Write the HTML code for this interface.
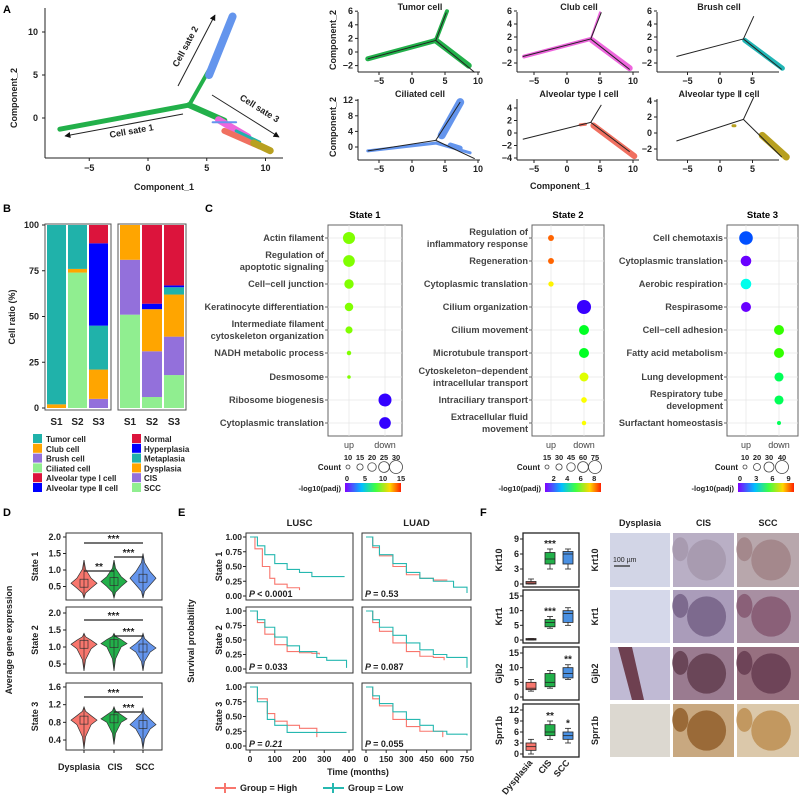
<!DOCTYPE html>
<html><head><meta charset="utf-8"><style>body{margin:0;background:#fff}svg{display:block}</style></head>
<body>
<svg id="fig" width="800" height="795" viewBox="0 0 800 795" xmlns="http://www.w3.org/2000/svg" font-family="'Liberation Sans', Arial, sans-serif">
<defs>
<marker id="arr" viewBox="0 0 10 10" refX="9" refY="5" markerWidth="6" markerHeight="6" orient="auto"><path d="M0,0 L10,5 L0,10 z" fill="#111"/></marker>
<linearGradient id="rainbow" x1="0" x2="1" y1="0" y2="0">
<stop offset="0" stop-color="#8000ff"/><stop offset="0.3" stop-color="#00bfff"/><stop offset="0.55" stop-color="#40ff40"/><stop offset="0.8" stop-color="#ffd700"/><stop offset="1" stop-color="#ff2000"/></linearGradient>
</defs>
</svg>
<script>
// ---------- DATA ----------
// Panel B
const stages = ['S1','S2','S3'];
const cellTypes = ['Brush cell','Ciliated cell','Club cell','Tumor cell','Alveolar type Ⅱ cell','Alveolar type Ⅰ cell'];
const cellColors = ['#9370db','#90ee90','#ffa500','#20b2aa','#0000ff','#dc143c'];
const cellS1 = [0,0,2,98,0,0];
const cellS2 = [0,74,2,24,0,0];
const cellS3 = [5,0,16,24,45,10];
const pathTypes = ['SCC','CIS','Dysplasia','Metaplasia','Hyperplasia','Normal'];
const pathColors = ['#90ee90','#9370db','#ffa500','#20b2aa','#0000ff','#dc143c'];
const pathS1 = [51,30,19,0,0,0];
const pathS2 = [6,25,23,0,3,43];
const pathS3 = [18,21,23,4,1,33];
const ratioTicks = [0,25,50,75,100];
// Panel C
const terms1 = ['Actin filament','Regulation of|apoptotic signaling','Cell−cell junction','Keratinocyte differentiation','Intermediate filament|cytoskeleton organization','NADH metabolic process','Desmosome','Ribosome biogenesis','Cytoplasmic translation'];
const dir1 = [0,0,0,0,0,0,0,1,1];
const count1 = [28,27,22,20,17,11,9,30,27];
const padj1 = [10,10,10,10,10,10,10,1,1];
const terms2 = ['Regulation of|inflammatory response','Regeneration','Cytoplasmic translation','Cilium organization','Cilium movement','Microtubule transport','Cytoskeleton−dependent|intracellular transport','Intraciliary transport','Extracellular fluid|movement'];
const dir2 = [0,0,0,1,1,1,1,1,1];
const count2 = [28,28,24,82,55,55,48,26,18];
const padj2 = [8.3,8.3,7.3,1.5,5.2,5.2,7,7.2,7.2];
const terms3 = ['Cell chemotaxis','Cytoplasmic translation','Aerobic respiration','Respirasome','Cell−cell adhesion','Fatty acid metabolism','Lung development','Respiratory tube|development','Surfactant homeostasis'];
const dir3 = [0,0,0,0,1,1,1,1,1];
const count3 = [42,32,32,30,30,30,27,27,10];
const padj3 = [1.8,0.2,3.5,0.2,6,6,4.8,4.8,4.8];
const countTicks1 = [10,15,20,25,30];
const countTicks2 = [15,30,45,60,75];
const countTicks3 = [10,20,30,40];
const padjTicks1 = [0,5,10,15];
const padjTicks2 = [2,4,6,8];
const padjTicks3 = [0,3,6,9];
// Panel D (min,q1,median,q3,max)
const groups = ['Dysplasia','CIS','SCC'];
const vState1 = [[0.15,0.45,0.6,0.75,1.3],[0.15,0.5,0.65,0.8,1.3],[0.15,0.55,0.75,0.95,1.5]];
const vState2 = [[0.3,0.95,1.08,1.2,1.4],[0.3,1.0,1.1,1.22,1.4],[0.3,0.85,0.97,1.1,1.4]];
const vState3 = [[0.2,0.75,0.85,0.95,1.15],[0.3,0.8,0.88,0.97,1.15],[0.2,0.65,0.75,0.87,1.12]];
const vTicks1 = [0.5,1.0,1.5,2.0];
const vTicks2 = [0.5,1.0,1.5,2.0];
const vTicks3 = [0.4,0.8,1.2,1.6];
// Panel E [time, survival]
const kmLuscS1High = [[0,1],[20,0.8],[50,0.5],[80,0.3],[100,0.2],[150,0.14],[200,0.1]];
const kmLuscS1Low = [[0,1],[30,0.85],[60,0.7],[100,0.55],[150,0.45],[200,0.4],[250,0.33],[380,0.32]];
const kmLuadS1High = [[0,1],[50,0.82],[100,0.68],[200,0.5],[300,0.36],[400,0.3],[500,0.27],[600,0.26]];
const kmLuadS1Low = [[0,1],[50,0.85],[100,0.7],[200,0.55],[300,0.4],[400,0.3],[500,0.25],[650,0.15],[750,0.05]];
const kmLuscS2High = [[0,1],[30,0.8],[60,0.6],[100,0.42],[150,0.3],[200,0.28],[250,0.27],[280,0.25]];
const kmLuscS2Low = [[0,1],[30,0.85],[60,0.72],[100,0.55],[150,0.4],[200,0.3],[270,0.2],[310,0.15],[390,0.02]];
const kmLuadS2High = [[0,1],[50,0.8],[100,0.65],[200,0.45],[300,0.3],[400,0.22],[500,0.2],[580,0.15]];
const kmLuadS2Low = [[0,1],[50,0.85],[100,0.72],[200,0.58],[300,0.45],[400,0.33],[500,0.25],[600,0.2],[750,0.02]];
const kmLuscS3High = [[0,1],[30,0.8],[70,0.55],[100,0.42],[150,0.35],[200,0.3],[270,0.15]];
const kmLuscS3Low = [[0,1],[30,0.75],[70,0.45],[100,0.35],[150,0.23],[390,0.23]];
const kmLuadS3High = [[0,1],[50,0.8],[100,0.68],[200,0.45],[300,0.33],[400,0.25],[570,0.15]];
const kmLuadS3Low = [[0,1],[50,0.85],[100,0.72],[200,0.58],[300,0.45],[400,0.35],[500,0.25],[600,0.2],[750,0.18]];
const pLusc = ['< 0.0001','= 0.033','= 0.21'];
const pLuad = ['= 0.53','= 0.087','= 0.055'];
const kmYTicks = [0,0.25,0.5,0.75,1];
const luscXTicks = [0,100,200,300,400];
const luadXTicks = [0,150,300,450,600,750];
// Panel F (min,q1,median,q3,max)
const genes = ['Krt10','Krt1','Gjb2','Sprr1b'];
const geneMax = [9,15,15,12];
const geneTicks = [[0,3,6,9],[0,5,10,15],[0,5,10,15],[0,3,6,9,12]];
const fKrt10 = [[0,0,0.2,0.5,1],[3,4,5,6.3,7],[3,4,6,6.5,7]];
const fKrt1 = [[0,0,0.2,0.5,0.5],[4,4.5,6,7,8],[5,6,9,10,11]];
const fGjb2 = [[2,2.5,3,5,6],[3,3.5,5,8,9],[6,6.5,8,10,11]];
const fSprr1b = [[0,1,2,3,4],[4,5,6,8,9],[3,4,5,6,7]];
const fStars = [['','***',''],['','***',''],['','','**'],['','**','*']];

// ---------- HELPERS ----------
const NS='http://www.w3.org/2000/svg';
const svg=document.getElementById('fig');
function add(p,tag,a,name){const e=document.createElementNS(NS,tag);for(const k in a)e.setAttribute(k,a[k]);


p.appendChild(e);return e;}
function txt(p,x,y,s,name,o){o=o||{};const a={x:x,y:y,'font-size':o.fs||9,'font-weight':o.fw||'bold','text-anchor':o.anchor||'middle',fill:o.fill||'#222'};if(o.tr)a.transform=o.tr;if(o.it)a['font-style']='italic';const e=add(p,'text',a,name);e.textContent=s;return e;}
function ln(p,x1,y1,x2,y2,name,o){o=o||{};return add(p,'line',{x1:x1,y1:y1,x2:x2,y2:y2,stroke:o.c||'#222','stroke-width':o.w||1,'stroke-linecap':o.cap||'butt'},name);}
function rc(p,x,y,w,h,name,o){o=o||{};return add(p,'rect',{x:x,y:y,width:w,height:h,fill:o.f||'none',stroke:o.s||'none','stroke-width':o.w||1},name);}
function grp(name){return add(svg,'g',{},name);}
function hue(t){t=Math.max(0,Math.min(1,t));return 'hsl('+((1-t)*270)+',100%,'+(50)+'%)';}

// panel letters
[['A',3,13],['B',3,212],['C',205,212],['D',3,516],['E',178,516],['F',480,516]].forEach(function(l){txt(svg,l[1],l[2],l[0],'panel-label-'+l[0].toLowerCase(),{fs:11,anchor:'start',fill:'#000'});});

// ---------- PANEL A ----------
(function(){
const g=grp('panel-a-trajectory');
const ax=x=>148+11.75*x, ay=y=>118-8.6*y;
ln(g,45,8,45,158,'y-axis-line');ln(g,45,158,283,158,'x-axis-line');
[-5,0,5,10].forEach(function(v){ln(g,ax(v),158,ax(v),161,'x-tick');txt(g,ax(v),171,v<0?'−5':String(v),'x-tick-label',{fs:9});});
[0,5,10].forEach(function(v){ln(g,42,ay(v),45,ay(v),'y-tick');txt(g,38,ay(v)+3,String(v),'y-tick-label',{fs:9,anchor:'end'});});
txt(g,164,190,'Component_1','x-axis-title',{fs:9});
txt(g,17,98,'Component_2','y-axis-title',{fs:9,tr:'rotate(-90 17 98)'});
const segs=[[[-7.5,-1.3],[3.5,1.5],'#22b04a',5],[[3.5,1.5],[5.2,5.6],'#22b04a',4],[[5.2,5],[7.2,11.8],'#6495ed',8],
[[3.5,1.5],[6.5,-0.3],'#22b04a',6],[[6,-0.2],[8.5,-2.2],'#ee66dd',7],[[6.5,-1.5],[9.5,-3.3],'#f07060',6],[[7.5,-1.5],[9.5,-2.8],'#20b2aa',3],[[9,-2.9],[10.4,-3.8],'#b8a020',7],[[5.5,-0.5],[7.5,-0.5],'#6495ed',2]];
segs.forEach(function(s){ln(g,ax(s[0][0]),ay(s[0][1]),ax(s[1][0]),ay(s[1][1]),'trajectory-branch',{c:s[2],w:s[3],cap:'round'});});
const a1=ln(g,183,114,65,136,'arrow-cell-state-1');a1.setAttribute('marker-end','url(#arr)');
const a2=ln(g,178,86,215,15,'arrow-cell-state-2');a2.setAttribute('marker-end','url(#arr)');
const a3=ln(g,212,95,279,137,'arrow-cell-state-3');a3.setAttribute('marker-end','url(#arr)');
txt(g,132,134,'Cell sate 1','label-cell-state-1',{fs:9,tr:'rotate(-10 132 134)'});
txt(g,188,48,'Cell sate 2','label-cell-state-2',{fs:9,tr:'rotate(-62 188 48)'});
txt(g,258,111,'Cell sate 3','label-cell-state-3',{fs:9,tr:'rotate(32 258 111)'});
})();

// small panels
(function(){
const cols=[{lx:358,x0:412,sx:6.6},{lx:517,x0:567,sx:6.6},{lx:657,x0:720,sx:6.5}];
const rows=[[{y0:52,sy:6.8,t:['−2','0','2','4','6'],v:[-2,0,2,4,6]},{y0:50,sy:6.5,t:['−2','0','2','4','6'],v:[-2,0,2,4,6]},{y0:50,sy:6.5,t:['−2','0','2','4','6'],v:[-2,0,2,4,6]}],
[{y0:147,sy:3.9,t:['0','4','8','12'],v:[0,4,8,12]},{y0:133,sy:6.25,t:['−4','−2','0','2','4'],v:[-4,-2,0,2,4]},{y0:133,sy:8,t:['−2','0','2','4'],v:[-2,0,2,4]}]];
const titles=[['Tumor cell','Club cell','Brush cell'],['Ciliated cell','Alveolar type Ⅰ cell','Alveolar type Ⅱ cell']];
const bottoms=[72,160], tops=[8,95];
const xt=[[-5,0,5,10],[-5,0,5,10],[-5,0,5,10]];
const colored=[
[[[-6.7,-1],[3.6,1.7],'#22b04a',5],[[3.6,1.7],[5.3,6],'#22b04a',4],[[3.6,1.7],[8.6,-2],'#22b04a',6]],
[[[-6.5,-1],[3.6,1.7],'#ee66dd',4],[[3.6,1.7],[5,5.8],'#ee66dd',2],[[3.8,1.5],[9.5,-2.8],'#ee66dd',6]],
[[[3.8,1.5],[9.6,-2.8],'#20b5b5',5]],
[[[-6.7,-1],[3.6,1],'#6495ed',3],[[4.5,3],[7.3,11.5],'#6495ed',8],[[3.6,1],[8.8,-1.5],'#6495ed',3],[[5.8,0.5],[7.3,-0.3],'#6495ed',5]],
[[[2,1.3],[2.8,1.4],'#f07060',3],[[4,1.2],[10.2,-3.7],'#f07060',6]],
[[[2,0.9],[2.3,0.9],'#b8a020',3],[[6.5,-0.3],[10.2,-3],'#b8a020',7]]];
const upEnds=[[5.2,5.8],[5.2,5.8],[5.2,5.2],[7.3,11.5],[5.2,4.5],[5.2,4.5]];
for(let r=0;r<2;r++)for(let c=0;c<3;c++){
 const g=grp('trajectory-panel-'+titles[r][c].toLowerCase().replace(/[^a-z]+/g,'-'));
 const C=cols[c],R=rows[r][c];
 const X=x=>C.x0+C.sx*x, Y=y=>R.y0-R.sy*y;
 ln(g,C.lx,tops[r]+4,C.lx,bottoms[r],'y-axis-line');ln(g,C.lx,bottoms[r],C.lx+122,bottoms[r],'x-axis-line');
 xt[c].forEach(function(v){if(X(v)>C.lx+124)return;ln(g,X(v),bottoms[r],X(v),bottoms[r]+3,'x-tick');txt(g,X(v),bottoms[r]+12,v<0?'−5':String(v),'x-tick-label',{fs:9});});
 R.v.forEach(function(v,i){ln(g,C.lx-3,Y(v),C.lx,Y(v),'y-tick');txt(g,C.lx-5,Y(v)+3,R.t[i],'y-tick-label',{fs:9,anchor:'end'});});
 txt(g,C.lx+62,tops[r]+2,titles[r][c],'panel-title',{fs:9});
 const k=r*3+c;
 colored[k].forEach(function(s){ln(g,X(s[0][0]),Y(s[0][1]),X(s[1][0]),Y(s[1][1]),'cell-points',{c:s[2],w:s[3],cap:'round'});});
 const upEnd=upEnds[k];
 ln(g,X(-6.7),Y(-1),X(3.6),Y(1.7),'trajectory-line',{w:1});
 ln(g,X(3.6),Y(1.7),X(upEnd[0]),Y(upEnd[1]),'trajectory-line',{w:1});
 ln(g,X(3.6),Y(1.7),X(9.5),Y(-3),'trajectory-line',{w:1});
}
txt(svg,336,40,'Component_2','small-y-axis-title',{fs:9,tr:'rotate(-90 336 40)'});
txt(svg,336,127,'Component_2','small-y-axis-title-2',{fs:9,tr:'rotate(-90 336 127)'});
txt(svg,560,189,'Component_1','small-x-axis-title',{fs:9});
})();

// ---------- PANEL B ----------
(function(){
const g=grp('panel-b-cell-ratio');
const Y=v=>408-v*1.83;
rc(g,45,224,66,186,'facet-box-cell-type',{s:'#555'});rc(g,118,224,68,186,'facet-box-pathology',{s:'#555'});
ratioTicks.forEach(function(v){ln(g,42,Y(v),45,Y(v),'y-tick');txt(g,39,Y(v)+3,String(v),'y-tick-label',{fs:9,anchor:'end'});});
txt(g,15,317,'Cell ratio (%)','y-axis-title',{fs:9,tr:'rotate(-90 15 317)'});
const left=[cellS1,cellS2,cellS3], right=[pathS1,pathS2,pathS3];
for(let i=0;i<3;i++){
 let acc=0;const bx=47+i*21;
 left[i].forEach(function(v,j){if(v>0)rc(g,bx,Y(acc+v),19,v*1.83,'bar-'+stages[i].toLowerCase()+'-'+cellTypes[j].split(' ')[0].toLowerCase(),{f:cellColors[j]});acc+=v;});
 acc=0;const bx2=120+i*22;
 right[i].forEach(function(v,j){if(v>0)rc(g,bx2,Y(acc+v),20,v*1.83,'bar-path-'+stages[i].toLowerCase()+'-'+pathTypes[j].toLowerCase(),{f:pathColors[j]});acc+=v;});
 txt(g,bx+9.5,425,stages[i],'x-tick-label',{fs:10});txt(g,bx2+10,425,stages[i],'x-tick-label',{fs:10});
}
const leg1=['Tumor cell','Club cell','Brush cell','Ciliated cell','Alveolar type Ⅰ cell','Alveolar type Ⅱ cell'];
const leg1c=['#20b2aa','#ffa500','#9370db','#90ee90','#dc143c','#0000ff'];
const leg2=['Normal','Hyperplasia','Metaplasia','Dysplasia','CIS','SCC'];
const leg2c=['#dc143c','#0000ff','#20b2aa','#ffa500','#9370db','#90ee90'];
for(let i=0;i<6;i++){const y=434+i*9.8;
 rc(g,33,y,9,9,'legend-swatch',{f:leg1c[i]});txt(g,46,y+8,leg1[i],'legend-entry',{fs:8,anchor:'start'});
 rc(g,132,y,9,9,'legend-swatch',{f:leg2c[i]});txt(g,144,y+8,leg2[i],'legend-entry',{fs:8,anchor:'start'});}
})();

// ---------- PANEL C ----------
(function(){
const cfg=[{x0:328,x1:402,up:349,dn:385,title:'State 1',terms:terms1,dir:dir1,cnt:count1,pj:padj1,pmin:0,pmax:15,cmin:10,cmax:30,ct:countTicks1,ctx:[348,360,372,384,396],pt:padjTicks1,cbx:345},
{x0:532,x1:604,up:551,dn:584,title:'State 2',terms:terms2,dir:dir2,cnt:count2,pj:padj2,pmin:1,pmax:9,cmin:15,cmax:75,ct:countTicks2,ctx:[547,559,571,583,595],pt:padjTicks2,cbx:545},
{x0:727,x1:798,up:746,dn:779,title:'State 3',terms:terms3,dir:dir3,cnt:count3,pj:padj3,pmin:0,pmax:10,cmin:10,cmax:40,ct:countTicks3,ctx:[745,757,769,782],pt:padjTicks3,cbx:738}];
const rowsY=[238,261,284,307,330,353,377,400,423];
cfg.forEach(function(c,si){
 const g=grp('panel-c-dotplot-state-'+(si+1));
 const R=n=>2+(n-c.cmin)*(4.5/(c.cmax-c.cmin));
 rc(g,c.x0,225,c.x1-c.x0,211,'plot-frame',{s:'#666',f:'#fff'});
 rowsY.forEach(function(y){ln(g,c.x0,y,c.x1,y,'grid-line',{c:'#e6e6e6',w:0.7});});
 [c.up,c.dn].forEach(function(x){ln(g,x,225,x,436,'grid-line',{c:'#e6e6e6',w:0.7});});
 txt(g,(c.x0+c.x1)/2,218,c.title,'facet-title',{fs:9.5,fill:'#000'});
 c.terms.forEach(function(t,i){const y=rowsY[i];ln(g,c.x0-3,y,c.x0,y,'y-tick',{c:'#666'});
  const parts=t.split('|');
  if(parts.length===1)txt(g,c.x0-4,y+3,parts[0],'term-label',{fs:9.2,anchor:'end',fill:'#444'});
  else{txt(g,c.x0-4,y-3,parts[0],'term-label',{fs:9.2,anchor:'end',fill:'#444'});txt(g,c.x0-4,y+9,parts[1],'term-label',{fs:9.2,anchor:'end',fill:'#444'});}
  const cx=c.dir[i]===0?c.up:c.dn;
  add(g,'circle',{cx:cx,cy:y,r:Math.max(1,R(c.cnt[i])),fill:hue((c.pj[i]-c.pmin)/(c.pmax-c.pmin))},'dot-'+(si+1)+'-'+i);
 });
 txt(g,c.up,448,'up','x-tick-label',{fs:9,fw:'normal',fill:'#444'});txt(g,c.dn,448,'down','x-tick-label',{fs:9,fw:'normal',fill:'#444'});
 txt(g,c.ctx[0]-7,470,'Count','legend-count-title',{fs:8,anchor:'end'});
 c.ct.forEach(function(n,i){txt(g,c.ctx[i],460,String(n),'legend-count-label',{fs:7.5});add(g,'circle',{cx:c.ctx[i],cy:467,r:R(n),fill:'none',stroke:'#444','stroke-width':0.8},'legend-count-circle');});
 rc(g,c.cbx,483,56,9,'colorbar',{f:'url(#rainbow)'});
 txt(g,c.cbx-4,491,'-log10(padj)','legend-color-title',{fs:7.5,anchor:'end'});
 c.pt.forEach(function(p){txt(g,c.cbx+2+(p-c.pmin)/(c.pmax-c.pmin)*54,481,String(p),'legend-color-label',{fs:7.5});});
});
})();

// ---------- PANEL D ----------
(function(){
const panels=[{t:533,b:600,z:603,s:33,d:vState1,ticks:vTicks1,sig:[[84,143,543,'***'],[84,114,571,'**'],[114,143,557,'***']]},
{t:607,b:673,z:681,s:34,d:vState2,ticks:vTicks2,sig:[[84,143,620,'***'],[114,143,636,'***']]},
{t:683,b:750,z:757.7,s:44.2,d:vState3,ticks:vTicks3,sig:[[84,143,697,'***'],[114,143,712,'***']]}];
const cols=['#f8766d','#22b04a','#6495ed'], xs=[84,114,143];
panels.forEach(function(P,pi){
 const g=grp('panel-d-violin-state-'+(pi+1));
 const Y=v=>P.z-P.s*v;
 rc(g,66,P.t,96,P.b-P.t,'plot-frame',{s:'#333'});
 P.ticks.forEach(function(v){ln(g,63,Y(v),66,Y(v),'y-tick');txt(g,61,Y(v)+3,v.toFixed(1),'y-tick-label',{fs:9,anchor:'end'});});
 txt(g,38,(P.t+P.b)/2,'State '+(pi+1),'row-label',{fs:9,tr:'rotate(-90 38 '+((P.t+P.b)/2)+')'});
 P.d.forEach(function(s,i){const cx=xs[i],w=13;
  const lv=[[s[4],0],[(s[4]+s[3])/2,0.12],[s[3],0.55],[s[2],1],[s[1],0.55],[(s[1]+s[0])/2,0.12],[s[0],0]];
  let pts=lv.map(function(q){return (cx+w*q[1])+','+Y(q[0]);});
  pts=pts.concat(lv.slice().reverse().map(function(q){return (cx-w*q[1])+','+Y(q[0]);}));
  add(g,'polygon',{points:pts.join(' '),fill:cols[i],stroke:'#333','stroke-width':0.7},'violin-'+groups[i].toLowerCase());
  rc(g,cx-4,Y(s[2])-4,8,8,'violin-box',{s:'#333',w:0.7});
  ln(g,cx,Y(s[4]),cx,Y(s[0])>P.b?P.b:Y(s[0]),'violin-whisker',{w:0.6});
  if(pi===2)ln(g,cx,P.b,cx,P.b+3,'x-tick');
 });
 P.sig.forEach(function(q){ln(g,q[0],q[2],q[1],q[2],'significance-bar',{w:1.2});txt(g,(q[0]+q[1])/2,q[2]-1,q[3],'significance-stars',{fs:10});});
});
txt(svg,12,640,'Average gene expression','y-axis-title-d',{fs:9,tr:'rotate(-90 12 640)'});
txt(svg,79,770,'Dysplasia','x-label-dysplasia',{fs:9});txt(svg,115,770,'CIS','x-label-cis',{fs:9});txt(svg,145,770,'SCC','x-label-scc',{fs:9});
})();

// ---------- PANEL E ----------
(function(){
const rows=[[533,600],[607,673],[683,750]];
const colsE=[{x0:246,x1:353,tmax:400,ticks:luscXTicks,name:'LUSC',p:pLusc},{x0:362,x1:471,tmax:750,ticks:luadXTicks,name:'LUAD',p:pLuad}];
const data=[[[kmLuscS1High,kmLuscS1Low],[kmLuadS1High,kmLuadS1Low]],[[kmLuscS2High,kmLuscS2Low],[kmLuadS2High,kmLuadS2Low]],[[kmLuscS3High,kmLuscS3Low],[kmLuadS3High,kmLuadS3Low]]];
const kc=['#f8766d','#26b8b0'];
rows.forEach(function(R,ri){colsE.forEach(function(C,ci){
 const g=grp('panel-e-km-'+C.name.toLowerCase()+'-state-'+(ri+1));
 const X=t=>C.x0+4+(t/C.tmax)*(C.x1-C.x0-8), Y=s=>R[1]-4-s*(R[1]-R[0]-8);
 rc(g,C.x0,R[0],C.x1-C.x0,R[1]-R[0],'plot-frame',{s:'#333'});
 if(ci===0)kmYTicks.forEach(function(v){ln(g,C.x0-3,Y(v),C.x0,Y(v),'y-tick');txt(g,C.x0-4,Y(v)+3,v.toFixed(2),'y-tick-label',{fs:8.5,anchor:'end'});});
 if(ri===2)C.ticks.forEach(function(v){ln(g,X(v),R[1],X(v),R[1]+3,'x-tick');txt(g,X(v),R[1]+12,String(v),'x-tick-label',{fs:8.5});});
 data[ri][ci].forEach(function(curve,k){
  let d='M'+X(curve[0][0])+','+Y(curve[0][1]);
  for(let i=1;i<curve.length;i++){d+=' H'+X(curve[i][0])+' V'+Y(curve[i][1]);}
  add(g,'path',{d:d,fill:'none',stroke:kc[k],'stroke-width':1.1},k===0?'km-curve-high':'km-curve-low');
 });
 const pt=txt(g,C.x0+3,R[1]-3,'','p-value',{fs:9,anchor:'start'});
 const t1=document.createElementNS(NS,'tspan');t1.setAttribute('font-style','italic');t1.textContent='P ';pt.appendChild(t1);
 const t2=document.createElementNS(NS,'tspan');if(ri===2&&ci===0)t2.setAttribute('font-style','italic');t2.textContent=C.p[ri];pt.appendChild(t2);
 if(ri===0)txt(g,(C.x0+C.x1)/2,526,C.name,'column-title',{fs:9.5});
});
txt(svg,222,(R[0]+R[1])/2,'State '+(ri+1),'row-label-e',{fs:9,tr:'rotate(-90 222 '+((R[0]+R[1])/2)+')'});
});
txt(svg,194,641,'Survival probability','y-axis-title-e',{fs:9,tr:'rotate(-90 194 641)'});
txt(svg,358,775,'Time (months)','x-axis-title-e',{fs:9});
const lg=grp('panel-e-legend');
ln(lg,215,788,236,788,'legend-line-high',{c:'#f8766d',w:2});ln(lg,225,783,225,793,'legend-mark-high',{c:'#f8766d',w:2});
txt(lg,240,791,'Group = High','legend-label-high',{fs:9,anchor:'start'});
ln(lg,323,788,344,788,'legend-line-low',{c:'#26b8b0',w:2});ln(lg,333,783,333,793,'legend-mark-low',{c:'#26b8b0',w:2});
txt(lg,348,791,'Group = Low','legend-label-low',{fs:9,anchor:'start'});
})();

// ---------- PANEL F ----------
(function(){
const rows=[[533,587],[590,643],[647,700],[704,757]];
const fData=[fKrt10,fKrt1,fGjb2,fSprr1b];
const bc=['#f8766d','#22b04a','#4a90e2'],xs=[531,550,568];
rows.forEach(function(R,gi){
 const g=grp('panel-f-box-'+genes[gi].toLowerCase());
 const Y=v=>R[1]-3-v/geneMax[gi]*(R[1]-R[0]-9);
 rc(g,523,R[0],56,R[1]-R[0],'plot-frame',{s:'#222',w:1.3});
 geneTicks[gi].forEach(function(v){ln(g,520,Y(v),523,Y(v),'y-tick');txt(g,519,Y(v)+3,String(v),'y-tick-label',{fs:9,anchor:'end'});});
 txt(g,502,(R[0]+R[1])/2,genes[gi],'gene-label',{fs:9,tr:'rotate(-90 502 '+((R[0]+R[1])/2)+')'});
 fData[gi].forEach(function(s,i){const cx=xs[i];
  ln(g,cx,Y(s[4]),cx,Y(s[0]),'whisker',{w:0.8});ln(g,cx-3,Y(s[4]),cx+3,Y(s[4]),'whisker-cap',{w:0.8});ln(g,cx-3,Y(s[0]),cx+3,Y(s[0]),'whisker-cap',{w:0.8});
  rc(g,cx-5,Y(s[3]),10,Math.max(1.5,Y(s[1])-Y(s[3])),'box-'+groups[i].toLowerCase(),{f:bc[i],s:'#222',w:0.8});
  ln(g,cx-5,Y(s[2]),cx+5,Y(s[2]),'median',{w:0.8});
  if(fStars[gi][i])txt(g,cx,Y(s[4])-2,fStars[gi][i],'significance-stars',{fs:10});
 });
});
[['Dysplasia',533],['CIS',552],['SCC',570]].forEach(function(l){txt(svg,l[1],763,l[0],'x-label-f',{fs:9,anchor:'end',tr:'rotate(-50 '+l[1]+' 763)'});});
const ig=grp('panel-f-ihc-images');
const cx=[610,673,737],cw=[60,61,62];
const titles=['Dysplasia','CIS','SCC'];
titles.forEach(function(t,i){txt(ig,cx[i]+cw[i]/2,526,t,'ihc-column-title',{fs:9});});
const fills=[['#d2d5e6','#b9afc5','#b8a7ac'],['#d5d8ea','#aa9cba','#a88fa2'],['#c0bad4','#9a7b90','#977080'],['#dcd8d0','#c8a880','#dbc8aa']];
const blobs=[[null,'#a89bb0','#a4888c'],[null,'#7d6a8e','#8a6078'],['#6e4050','#6a4658','#6e4458'],[null,'#9a6a38','#c29860']];
rows.forEach(function(R,ri){
 txt(ig,598,(R[0]+R[1])/2,genes[ri],'ihc-row-label',{fs:9,tr:'rotate(-90 598 '+((R[0]+R[1])/2)+')'});
 for(let i=0;i<3;i++){rc(ig,cx[i],R[0],cw[i],R[1]-R[0],'ihc-image-'+genes[ri].toLowerCase()+'-'+titles[i].toLowerCase(),{f:fills[ri][i]});
  if(blobs[ri][i]){if(i===0)add(ig,'path',{d:'M'+(cx[i]+8)+','+R[0]+' L'+(cx[i]+22)+','+R[0]+' L'+(cx[i]+34)+','+R[1]+' L'+(cx[i]+22)+','+R[1]+' Z',fill:blobs[ri][i]},'ihc-stain');
  else{add(ig,'ellipse',{cx:cx[i]+cw[i]*0.55,cy:(R[0]+R[1])/2,rx:cw[i]*0.32,ry:(R[1]-R[0])*0.38,fill:blobs[ri][i]},'ihc-stain');
   add(ig,'ellipse',{cx:cx[i]+cw[i]*0.12,cy:R[0]+(R[1]-R[0])*0.3,rx:8,ry:12,fill:blobs[ri][i]},'ihc-stain');}}
 }
});
ln(ig,614,566,630,566,'scale-bar',{w:1.2});txt(ig,613,562,'100 µm','scale-bar-label',{fs:7,anchor:'start',fw:'normal'});
})();
</script>
</body></html>
